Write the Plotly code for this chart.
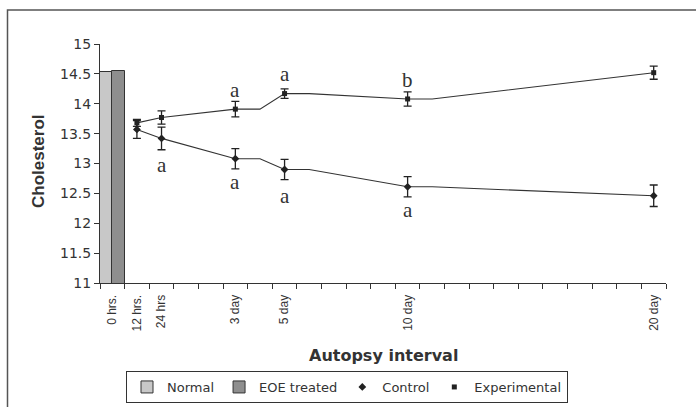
import plotly.graph_objects as go

# ---------------- data ----------------
n_categories = 23
tick_positions = [0, 1, 2, 5, 7, 12, 22]
tick_labels = ["0 hrs.", "12 hrs.", "24 hrs", "3 day", "5 day", "10 day", "20 day"]

normal_value = [14.53]
eoe_value = [14.55]

marker_x = [1, 2, 5, 7, 12, 22]
control_values = [13.57, 13.42, 13.08, 12.90, 12.61, 12.46]
control_errors = [0.15, 0.19, 0.17, 0.17, 0.17, 0.18]
experimental_values = [13.68, 13.77, 13.91, 14.17, 14.08, 14.52]
experimental_errors = [0.06, 0.11, 0.13, 0.08, 0.12, 0.11]

# line paths (the original lines stay level for one category after some points)
line_x = [1, 2, 5, 6, 7, 8, 12, 13, 22]
control_line = [13.57, 13.42, 13.08, 13.08, 12.90, 12.90, 12.61, 12.61, 12.46]
experimental_line = [13.68, 13.77, 13.91, 13.91, 14.17, 14.17, 14.08, 14.08, 14.52]

# significance letters: (category, y, letter)
letters = [
    (2, 12.97, "a"),
    (5, 14.23, "a"), (5, 12.69, "a"),
    (7, 14.50, "a"), (7, 12.46, "a"),
    (12, 14.40, "b"), (12, 12.22, "a"),
]

# ---------------- figure ----------------
W, H = 696, 407
L, R, T, B = 100, 30, 44, 124
pw, ph = W - L - R, H - T - B

def px_x(px):
    return (px - L) / pw

def px_y(py):
    return (H - B - py) / ph

ink = "#222222"
text_col = "#333333"
wide = "DejaVu Sans, Verdana, sans-serif"
narrow = "Liberation Sans, Arial, sans-serif"

fig = go.Figure()

fig.add_trace(go.Bar(
    x=[0], y=normal_value, base=0, width=[0.5], offset=-0.5, name="Normal",
    marker=dict(color="#c8c8c8", line=dict(color="#333333", width=1)),
))
fig.add_trace(go.Bar(
    x=[0], y=eoe_value, base=0, width=[0.5], offset=0, name="EOE treated",
    marker=dict(color="#8e8e8e", line=dict(color="#333333", width=1)),
))

fig.add_trace(go.Scatter(
    x=line_x, y=control_line, mode="lines", showlegend=False, hoverinfo="skip",
    line=dict(color="#333333", width=1.1),
))
fig.add_trace(go.Scatter(
    x=line_x, y=experimental_line, mode="lines", showlegend=False, hoverinfo="skip",
    line=dict(color="#333333", width=1.1),
))

fig.add_trace(go.Scatter(
    x=marker_x, y=control_values, mode="markers", name="Control",
    marker=dict(symbol="diamond", size=6, color=ink),
    error_y=dict(type="data", array=control_errors, width=4, thickness=1.3, color=ink),
))
fig.add_trace(go.Scatter(
    x=marker_x, y=experimental_values, mode="markers", name="Experimental",
    marker=dict(symbol="square", size=5, color=ink),
    error_y=dict(type="data", array=experimental_errors, width=4, thickness=1.3, color=ink),
))

annotations = []
for cx, cy, txt in letters:
    annotations.append(dict(
        x=cx, y=cy, xref="x", yref="y", text=txt, showarrow=False,
        xanchor="center", yanchor="middle",
        font=dict(family="Liberation Serif, Times New Roman, serif", size=21, color=text_col),
    ))

annotations.append(dict(
    x=px_x(383), y=px_y(355), xref="paper", yref="paper", text="<b>Autopsy interval</b>",
    xanchor="center", yanchor="middle",
    showarrow=False, font=dict(family=wide, size=16, color=text_col),
))
annotations.append(dict(
    x=px_x(38), y=px_y(161), xref="paper", yref="paper", text="<b>Cholesterol</b>", textangle=-90,
    xanchor="center", yanchor="middle",
    showarrow=False, font=dict(family=narrow, size=17, color=text_col),
))

fig.update_layout(
    width=W, height=H,
    margin=dict(l=L, r=R, t=T, b=B, pad=0, autoexpand=False),
    paper_bgcolor="white", plot_bgcolor="white",
    barmode="overlay", bargap=0,
    font=dict(family=wide, size=13, color=text_col),
    annotations=annotations,
    showlegend=True,
    legend=dict(
        orientation="h", x=px_x(347), y=px_y(371), xanchor="center", yanchor="top",
        bordercolor="#333333", borderwidth=1, bgcolor="white",
        font=dict(family=wide, size=13, color=text_col), itemwidth=30, traceorder="normal",
        tracegroupgap=0,
    ),
    shapes=[dict(
        type="rect", xref="paper", yref="paper",
        x0=px_x(7.5), y0=px_y(10), x1=px_x(720), y1=px_y(430),
        line=dict(color="#555555", width=1.5), fillcolor="rgba(0,0,0,0)", layer="below",
    )],
)

fig.update_xaxes(
    range=[-0.5, n_categories - 0.5],
    tickmode="array", tickvals=tick_positions, ticktext=tick_labels,
    tickangle=-90, ticks="", ticklabelstandoff=6,
    tickfont=dict(family=narrow, size=12, color=text_col),
    showline=True, linecolor="#333333", linewidth=1,
    showgrid=False, zeroline=False,
    minor=dict(ticks="outside", ticklen=5, tickcolor="#333333",
               tickmode="array", tickvals=[i - 0.5 for i in range(n_categories + 1)]),
)
fig.update_yaxes(
    range=[11, 15], tick0=11, dtick=0.5,
    ticks="outside", ticklen=5, tickcolor="#333333",
    tickfont=dict(family=wide, size=14, color=text_col),
    showline=True, linecolor="#333333", linewidth=1,
    showgrid=False, zeroline=False,
)

fig.write_html("out.html")
